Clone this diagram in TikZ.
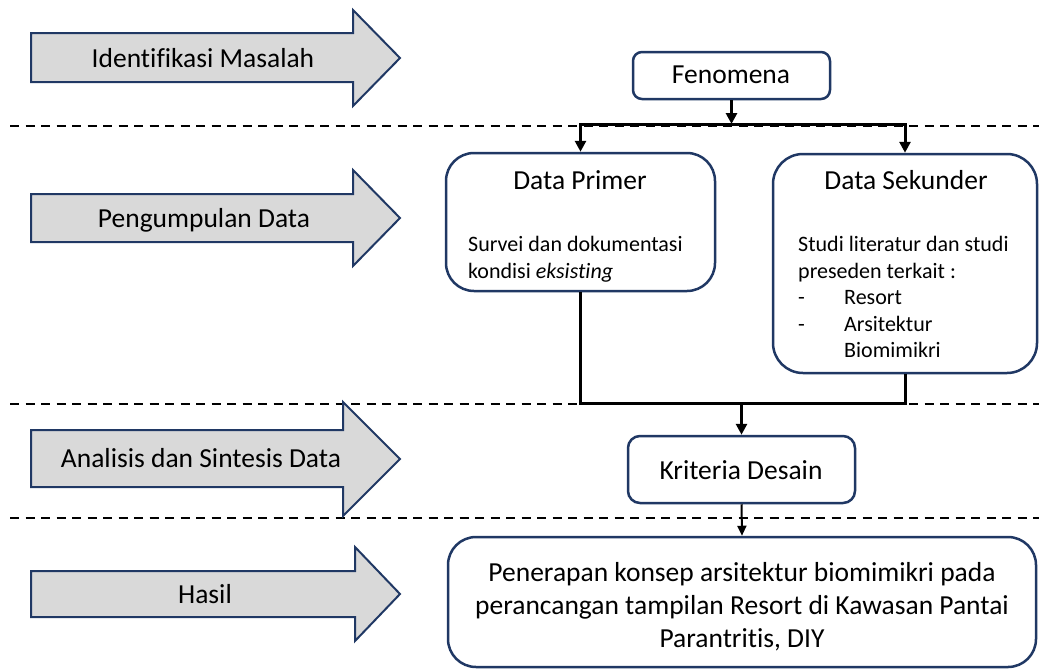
\documentclass[tikz,border=0pt]{standalone}
\usepackage{fontspec}
\setmainfont{Carlito}[Ligatures=NoCommon]
\usetikzlibrary{arrows.meta}
\definecolor{navy}{HTML}{203864}
\definecolor{arrfill}{HTML}{D9D9D9}
\begin{document}
\begin{tikzpicture}[x=1pt,y=-1pt,
  boxst/.style={draw=navy, line width=2.5pt, fill=white, inner sep=0pt},
  lbl/.style={font=\fontsize{27.5}{33}\selectfont, inner sep=0pt, anchor=base},
  small/.style={font=\fontsize{22}{26.5}\selectfont, inner sep=0pt, anchor=base west},
  bigarrow/.style={draw=navy, fill=arrfill, line width=2pt, line join=miter},
  sepline/.style={line width=1.8pt, dash pattern=on 9pt off 6.5pt},
  conn/.style={line width=3pt, line join=miter, -{Triangle[length=11pt,width=11pt]}},
  bar/.style={line width=3pt, line join=miter},
  thinconn/.style={line width=2pt, -{Triangle[length=10pt,width=9pt]}}
]
\useasboundingbox (0,0) rectangle (1039,670);
% separators
\draw[sepline] (10,126) -- (1039,126);
\draw[sepline] (10,404) -- (1039,404);
\draw[sepline] (10,518) -- (1039,518);
% stage arrows
\draw[bigarrow] (31,33) -- (353,33) -- (353,10) -- (400,58) -- (353,106) -- (353,82) -- (31,82) -- cycle;
\draw[bigarrow] (31,194) -- (353,194) -- (353,170) -- (400,218) -- (353,266) -- (353,242) -- (31,242) -- cycle;
\draw[bigarrow] (31,430) -- (343,430) -- (343,402) -- (400,459) -- (343,516) -- (343,487) -- (31,487) -- cycle;
\draw[bigarrow] (31,571) -- (355,571) -- (355,547) -- (400,594) -- (355,641) -- (355,617) -- (31,617) -- cycle;
\node[lbl] (s1) at (203,67) {Identifikasi Masalah};
\node[lbl] (s2) at (204,227) {Pengumpulan Data};
\node[lbl] (s3) at (201,467) {Analisis dan Sintesis Data};
\node[lbl] (s4) at (205,603) {Hasil};
% boxes
\node[boxst, rounded corners=9pt, minimum width=197pt, minimum height=47pt] (fen) at (731.5,75.5) {};
\node[boxst, rounded corners=28pt, minimum width=269pt, minimum height=138pt] (dp) at (580.5,222) {};
\node[boxst, rounded corners=30pt, minimum width=264pt, minimum height=219pt] (ds) at (905,263.5) {};
\node[boxst, rounded corners=12pt, minimum width=227pt, minimum height=67pt] (kd) at (741.5,469.5) {};
\node[boxst, rounded corners=28pt, minimum width=588pt, minimum height=130pt] (fin) at (742,602) {};
% texts
\node[lbl] (tfen) at (731,83) {Fenomena};
\node[lbl] (tdp) at (580,189) {Data Primer};
\node[lbl] (tds) at (906,189) {Data Sekunder};
\node[small] (bdp) at (468,251.7) {\begin{tabular}[t]{@{}l@{}}Survei dan dokumentasi\\kondisi \textit{eksisting}\end{tabular}};
\node[small] (bds) at (798,251.7) {\begin{tabular}[t]{@{}l@{}}Studi literatur dan studi\\preseden terkait :\\\makebox[46pt][l]{-}Resort\\\makebox[46pt][l]{-}Arsitektur\\\hspace*{46pt}Biomimikri\end{tabular}};
\node[lbl] (tkd) at (741,479) {Kriteria Desain};
\node[lbl] (tfin) at (742,581) {\begin{tabular}[t]{@{}c@{}}Penerapan konsep arsitektur biomimikri pada\\perancangan tampilan Resort di Kawasan Pantai\\Parantritis, DIY\end{tabular}};
% connectors
\coordinate (j1) at (731.5,124);
\coordinate (j2) at (741.5,403);
\draw[conn] (fen.south) -- (j1);
\draw[bar, {Triangle[length=11pt,width=11pt]}-{Triangle[length=11pt,width=11pt]}] (dp.north) -- (dp.north |- j1) -- (ds.north |- j1) -- (ds.north);
\draw[bar] (dp.south) -- (dp.south |- j2) -- (ds.south |- j2) -- (ds.south);
\draw[conn] (j2) -- (kd.north);
\draw[thinconn] (kd.south) -- (fin.north);
\end{tikzpicture}
\end{document}
